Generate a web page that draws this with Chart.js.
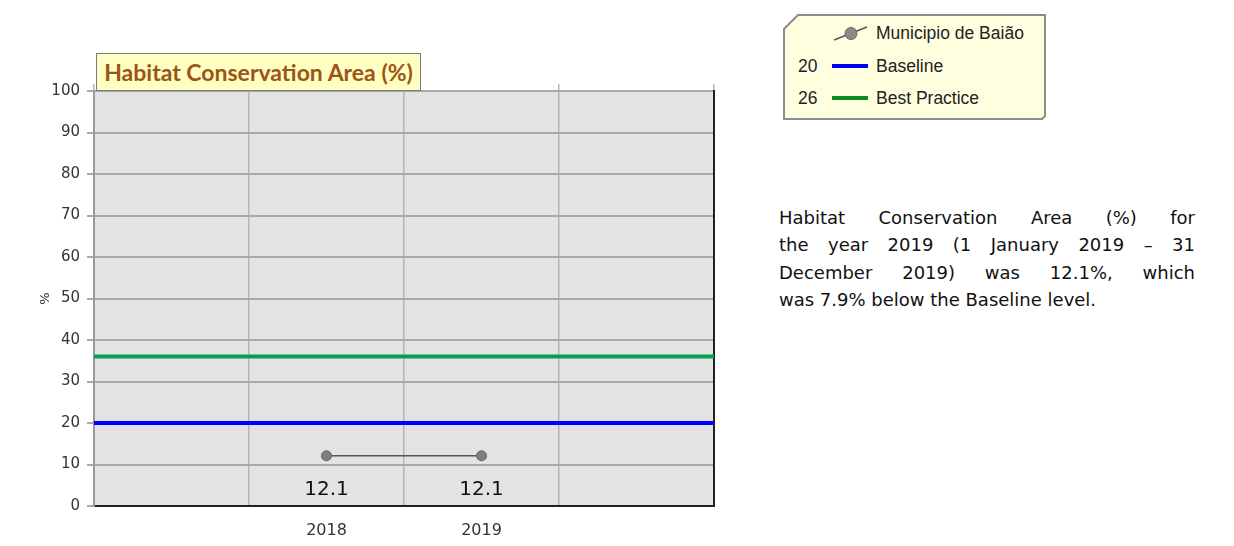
<!DOCTYPE html>
<html>
<head>
<meta charset="utf-8">
<script src="https://cdn.jsdelivr.net/npm/chart.js@4/dist/chart.umd.min.js"></script>
<style>
  html, body { margin: 0; padding: 0; background: #fff; }
  body { width: 1234px; height: 546px; position: relative; overflow: hidden; }
  #chartBox { position: absolute; left: 0; top: 0; width: 730px; height: 546px; }
  #titleBox {
    position: absolute; left: 96px; top: 53px; width: 323px; height: 36px;
    background: #FFFFC4; border: 1px solid #7a7a7a;
    font-family: "Lato", "Open Sans", sans-serif; font-weight: bold; font-size: 23px;
    color: #9B5516; line-height: 36px; text-align: center; white-space: nowrap;
  }
  #legend { position: absolute; left: 783px; top: 14px; width: 262px; height: 105px; }
  #legend svg { position: absolute; left: 0; top: 0; }
  .lg-row { position: absolute; left: 0; height: 20px; font-family: "Liberation Sans", Arial, sans-serif;
            font-size: 17.5px; color: #222; line-height: 20px; white-space: nowrap; }
  .lg-val { position: absolute; left: 15px; width: 22px; text-align: left; }
  .lg-sym { position: absolute; left: 48px; top: 0; }
  .lg-txt { position: absolute; left: 93px; }
  #note {
    position: absolute; left: 779px; top: 204px; width: 416px;
    font-family: "DejaVu Sans", Verdana, sans-serif; font-size: 18px; line-height: 27.3px;
    color: #111;
  }
  #note .ln { display: block; white-space: nowrap; text-align: justify; text-align-last: justify; }
  #note .ln.last { text-align-last: left; }
</style>
</head>
<body>
<div id="chartBox"><canvas id="chart"></canvas></div>
<div id="titleBox"></div>
<div id="legend"></div>
<div id="note"></div>

<script>
// ---- data ----
const years = ['2018', '2019'];
const municipioValues = [12.1, 12.1];
const baselineValue = [20];
const bestPracticeValue = [36];
const legendNumbers = ['20', '26'];
const yTicks = [0, 10, 20, 30, 40, 50, 60, 70, 80, 90, 100];

const seriesName = 'Municipio de Baião';
const chartTitle = 'Habitat Conservation Area (%)';
const noteLines = [
  'Habitat Conservation Area (%) for',
  'the year 2019 (1 January 2019 \u2013 31',
  'December 2019) was 12.1%, which',
  'was 7.9% below the Baseline level.'
];

const COLORS = {
  plotBg: '#E3E3E3',
  grid: '#A9A9A9',
  vgrid: '#B5B5B5',
  baseline: '#0000FF',
  best: '#00A04E',
  line: '#555555',
  point: '#7E7E7E'
};

const FONT = '"DejaVu Sans", Verdana, sans-serif';

// Category slots: an empty band on each side of the years
const labels = ['', ...years, ''];
const municipioData = [null, ...municipioValues, null];
const slotCount = labels.length;

// Reference lines span the whole plot on a hidden linear axis
const refLine = (v) => [{ x: 0, y: v }, { x: slotCount, y: v }];

// Grey plot background
const plotBackground = {
  id: 'plotBackground',
  beforeDraw(chart) {
    const { ctx, chartArea: a } = chart;
    ctx.save();
    ctx.fillStyle = COLORS.plotBg;
    ctx.fillRect(a.left, a.top, a.right - a.left, a.bottom - a.top);
    ctx.restore();
  }
};

// Value labels under each point of the municipality series
const valueLabels = {
  id: 'valueLabels',
  afterDatasetsDraw(chart) {
    const meta = chart.getDatasetMeta(0);
    const ds = chart.data.datasets[0];
    const { ctx } = chart;
    ctx.save();
    ctx.font = '20px ' + FONT;
    ctx.fillStyle = '#111';
    ctx.textAlign = 'center';
    ctx.textBaseline = 'middle';
    meta.data.forEach((pt, i) => {
      const v = ds.data[i];
      if (v === null || v === undefined) return;
      ctx.fillText(v.toFixed(1), pt.x, pt.y + 34);
    });
    ctx.restore();
  }
};

new Chart(document.getElementById('chart'), {
  type: 'line',
  data: {
    labels: labels,
    datasets: [
      {
        label: seriesName,
        data: municipioData,
        xAxisID: 'x',
        borderColor: COLORS.line,
        borderWidth: 1.5,
        pointRadius: 5,
        pointBackgroundColor: COLORS.point,
        pointBorderColor: '#666',
        pointBorderWidth: 1,
        spanGaps: false,
        order: 0
      },
      {
        label: 'Baseline',
        data: refLine(baselineValue[0]),
        xAxisID: 'x2',
        borderColor: COLORS.baseline,
        borderWidth: 4,
        pointRadius: 0,
        order: 1
      },
      {
        label: 'Best Practice',
        data: refLine(bestPracticeValue[0]),
        xAxisID: 'x2',
        borderColor: COLORS.best,
        borderWidth: 4,
        pointRadius: 0,
        order: 2
      }
    ]
  },
  options: {
    responsive: true,
    maintainAspectRatio: false,
    animation: false,
    layout: { padding: { top: 84, left: 38, right: 16, bottom: 0 } },
    plugins: {
      legend: { display: false },
      title: { display: false },
      tooltip: { enabled: false }
    },
    scales: {
      x: {
        type: 'category',
        position: 'bottom',
        offset: true,
        grid: { offset: true, color: COLORS.vgrid, lineWidth: 1.5, drawTicks: false },
        border: { display: true, color: '#222', width: 2 },
        ticks: {
          padding: 15,
          color: '#333',
          font: { family: FONT, size: 16 }
        },
        afterFit(axis) { axis.height = 40; }
      },
      x2: {
        type: 'linear',
        position: 'top',
        min: 0,
        max: slotCount,
        ticks: { display: false, stepSize: 1 },
        grid: { drawOnChartArea: false, drawTicks: true, tickLength: 7, color: COLORS.vgrid, lineWidth: 1.5 },
        border: { display: false },
        afterFit(axis) { axis.height = 7; }
      },
      y: {
        type: 'linear',
        min: 0,
        max: 100,
        afterBuildTicks(axis) { axis.ticks = yTicks.map(v => ({ value: v })); },
        grid: { color: COLORS.grid, lineWidth: 2, tickLength: 7 },
        border: { display: true, color: '#999', width: 2 },
        ticks: {
          padding: 7,
          color: '#333',
          font: { family: FONT, size: 15 }
        },
        title: {
          display: true,
          text: '%',
          color: '#333',
          padding: { top: 0, bottom: 0 },
          font: { family: FONT, size: 13 }
        },
        afterFit(axis) { axis.width = 56; }
      },
      y2: {
        type: 'linear',
        position: 'right',
        min: 0,
        max: 100,
        ticks: { display: false },
        grid: { display: false, drawTicks: false },
        border: { display: true, color: '#222', width: 2 }
      }
    }
  },
  plugins: [plotBackground, valueLabels]
});

// Title box
document.getElementById('titleBox').textContent = chartTitle;

// Legend box with a cut corner
(function buildLegend() {
  const el = document.getElementById('legend');
  const w = 262, h = 105, cut = 14;
  el.innerHTML =
    '<svg width="' + (w + 2) + '" height="' + (h + 2) + '">' +
    '<polygon points="' + [
      [1 + cut, 1], [w, 1], [w, h - 3], [w - 3, h], [1, h], [1, 1 + cut]
    ].map(p => p.join(',')).join(' ') +
    '" fill="#FFFFE0" stroke="#8c8c8c" stroke-width="2"/></svg>';

  const rows = [
    { val: '', txt: seriesName, sym:
      '<svg width="40" height="20"><line x1="3" y1="17" x2="36" y2="4" stroke="#555" stroke-width="1.5"/>' +
      '<circle cx="20" cy="10.5" r="6" fill="#8a8a8a" stroke="#666" stroke-width="1"/></svg>' },
    { val: legendNumbers[0], txt: 'Baseline', sym:
      '<svg width="40" height="20"><rect x="1" y="8" width="36" height="4" fill="' + COLORS.baseline + '"/></svg>' },
    { val: legendNumbers[1], txt: 'Best Practice', sym:
      '<svg width="40" height="20"><rect x="1" y="8" width="36" height="4" fill="#0B8A25"/></svg>' }
  ];
  rows.forEach((r, i) => {
    const row = document.createElement('div');
    row.className = 'lg-row';
    row.style.top = (9 + i * 32.5) + 'px';
    row.style.width = w + 'px';
    row.innerHTML = '<span class="lg-val">' + r.val + '</span><span class="lg-sym">' + r.sym +
                    '</span><span class="lg-txt">' + r.txt + '</span>';
    el.appendChild(row);
  });
})();

// Text block beside the chart, one justified line per entry
(function buildNote() {
  const el = document.getElementById('note');
  noteLines.forEach((t, i) => {
    const s = document.createElement('span');
    s.className = 'ln' + (i === noteLines.length - 1 ? ' last' : '');
    s.textContent = t;
    el.appendChild(s);
  });
})();
</script>
</body>
</html>
